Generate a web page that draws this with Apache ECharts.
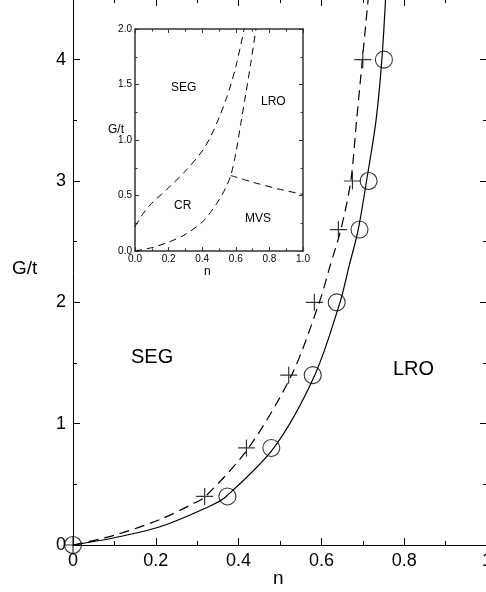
<!DOCTYPE html>
<html>
<head>
<meta charset="utf-8">
<script src="https://cdn.jsdelivr.net/npm/echarts@6/dist/echarts.min.js"></script>
<style>
html,body{margin:0;padding:0;background:#fff;}
#c{width:486px;height:592px;}
</style>
</head>
<body>
<div id="c"></div>
<script>
// ---- main panel data ----
var solidCurve = [[0,0],[0.1,0.06],[0.21,0.15],[0.33,0.32],[0.37,0.4],[0.485,0.8],[0.584,1.4],[0.645,2.0],[0.667,2.3],[0.689,2.6],[0.709,3.0],[0.732,3.5],[0.746,4.0],[0.755,4.5]];
var dashedCurve = [[0,0],[0.1,0.08],[0.21,0.21],[0.29,0.34],[0.32,0.4],[0.424,0.8],[0.528,1.4],[0.595,2.0],[0.621,2.3],[0.647,2.6],[0.671,3.0],[0.685,3.5],[0.699,4.0],[0.713,4.5]];
var circlePoints = [[0,0],[0.373,0.4],[0.479,0.8],[0.579,1.4],[0.637,2.0],[0.692,2.6],[0.714,3.0],[0.751,4.0]];
var plusPoints = [[0,0],[0.318,0.4],[0.419,0.8],[0.521,1.4],[0.583,2.0],[0.641,2.6],[0.675,3.0],[0.700,4.0]];
// ---- inset data ----
var insetSegCr = [[0,0.22],[0.05,0.34],[0.1,0.43],[0.2,0.57],[0.3,0.72],[0.4,0.9],[0.45,1.03],[0.5,1.2],[0.55,1.4],[0.6,1.66],[0.65,2.0]];
var insetCrLro = [[0,0],[0.1,0.03],[0.2,0.08],[0.3,0.15],[0.4,0.26],[0.45,0.35],[0.5,0.46],[0.54,0.57],[0.57,0.68],[0.6,0.88],[0.63,1.15],[0.66,1.42],[0.69,1.7],[0.72,2.0]];
var insetLroMvs = [[0.57,0.68],[0.7,0.62],[0.85,0.56],[1.0,0.51]];

var FONT = '"Liberation Sans", Arial, sans-serif';
var chart = echarts.init(document.getElementById('c'), null, {renderer:'canvas'});

function mainAxis(pos, labels, extra){
  var a = {
    type:'value', gridIndex:0, position:pos,
    axisLine:{show:true, onZero:false, lineStyle:{color:'#000', width:1}},
    axisTick:{show:true, inside:true, length:7, lineStyle:{color:'#000', width:1}},
    minorTick:{show:true, splitNumber:2, length:4, lineStyle:{color:'#000', width:1}},
    splitLine:{show:false}, minorSplitLine:{show:false},
    axisLabel:{show:labels, color:'#000', fontFamily:FONT, fontSize:18, margin:7, showMaxLabel:(pos==='left'?false:null)}
  };
  for (var k in extra) a[k] = extra[k];
  return a;
}
function insetAxis(pos, labels, extra){
  var a = {
    type:'value', gridIndex:1, position:pos,
    axisLine:{show:true, onZero:false, lineStyle:{color:'#333', width:1.5}},
    axisTick:{show:true, inside:true, length:4, lineStyle:{color:'#333', width:1}},
    minorTick:{show:true, splitNumber:2, length:2.5, lineStyle:{color:'#333', width:1}},
    splitLine:{show:false}, minorSplitLine:{show:false},
    axisLabel:{show:labels, color:'#000', fontFamily:FONT, fontSize:10, margin:3,
      formatter:function(v){return v.toFixed(1);}}
  };
  for (var k in extra) a[k] = extra[k];
  return a;
}

var plusPath = 'path://M0,10L20,10M10,0L10,20';

chart.setOption({
  animation:false,
  backgroundColor:'#fff',
  grid:[
    {left:73, top:-1, width:414, height:546, show:false, outerBoundsMode:'none', containLabel:false},
    {left:135, top:29, width:168, height:222, show:true, backgroundColor:'#fff', borderWidth:0, z:5, outerBoundsMode:'none', containLabel:false}
  ],
  xAxis:[
    mainAxis('bottom', true, {min:0, max:1, interval:0.2}),
    mainAxis('top', false, {min:0, max:1, interval:0.2}),
    insetAxis('bottom', true, {min:0, max:1, interval:0.2, z:6}),
    insetAxis('top', false, {min:0, max:1, interval:0.2, z:6})
  ],
  yAxis:[
    mainAxis('left', true, {min:0, max:4.5, interval:1}),
    mainAxis('right', false, {min:0, max:4.5, interval:1}),
    insetAxis('left', true, {min:0, max:2, interval:0.5, z:6}),
    insetAxis('right', false, {min:0, max:2, interval:0.5, z:6})
  ],
  series:[
    {type:'line', xAxisIndex:0, yAxisIndex:0, data:solidCurve, showSymbol:false, symbol:'none',
     smooth:0.3, lineStyle:{color:'#000', width:1.2}, z:3},
    {type:'line', xAxisIndex:0, yAxisIndex:0, data:dashedCurve, showSymbol:false, symbol:'none',
     smooth:0.3, lineStyle:{color:'#000', width:1.2, type:[10,6]}, z:3},
    {type:'scatter', xAxisIndex:0, yAxisIndex:0, data:circlePoints, symbol:'circle', symbolSize:17, clip:false,
     itemStyle:{color:'rgba(0,0,0,0)', borderColor:'#000', borderWidth:1.1}, z:4},
    {type:'scatter', xAxisIndex:0, yAxisIndex:0, data:plusPoints, symbol:plusPath, symbolSize:17, clip:false,
     itemStyle:{color:'rgba(0,0,0,0)', borderColor:'#000', borderWidth:1.2}, z:4},
    {type:'line', xAxisIndex:2, yAxisIndex:2, data:insetSegCr, showSymbol:false, symbol:'none',
     smooth:0.3, lineStyle:{color:'#000', width:1, type:[7,5]}, z:7},
    {type:'line', xAxisIndex:2, yAxisIndex:2, data:insetCrLro, showSymbol:false, symbol:'none',
     smooth:0.3, lineStyle:{color:'#000', width:1, type:[7,5]}, z:7},
    {type:'line', xAxisIndex:2, yAxisIndex:2, data:insetLroMvs, showSymbol:false, symbol:'none',
     smooth:0.3, lineStyle:{color:'#000', width:1, type:[7,5]}, z:7}
  ],
  graphic:[
    {type:'text', left:12, top:259, style:{text:'G/t', font:'19px '+FONT, fill:'#000'}},
    {type:'text', left:273, top:569, style:{text:'n', font:'19px '+FONT, fill:'#000'}},
    {type:'text', left:131, top:347, style:{text:'SEG', font:'20px '+FONT, fill:'#000'}},
    {type:'text', left:393, top:359, style:{text:'LRO', font:'20px '+FONT, fill:'#000'}},
    {type:'text', left:108, top:124, z:10, style:{text:'G/t', font:'12px '+FONT, fill:'#000'}},
    {type:'text', left:204, top:266, z:10, style:{text:'n', font:'12px '+FONT, fill:'#000'}},
    {type:'text', left:171, top:82, z:10, style:{text:'SEG', font:'12px '+FONT, fill:'#000'}},
    {type:'text', left:261, top:96, z:10, style:{text:'LRO', font:'12px '+FONT, fill:'#000'}},
    {type:'text', left:174, top:200, z:10, style:{text:'CR', font:'12px '+FONT, fill:'#000'}},
    {type:'text', left:245, top:213, z:10, style:{text:'MVS', font:'12px '+FONT, fill:'#000'}}
  ]
});
</script>
</body>
</html>
